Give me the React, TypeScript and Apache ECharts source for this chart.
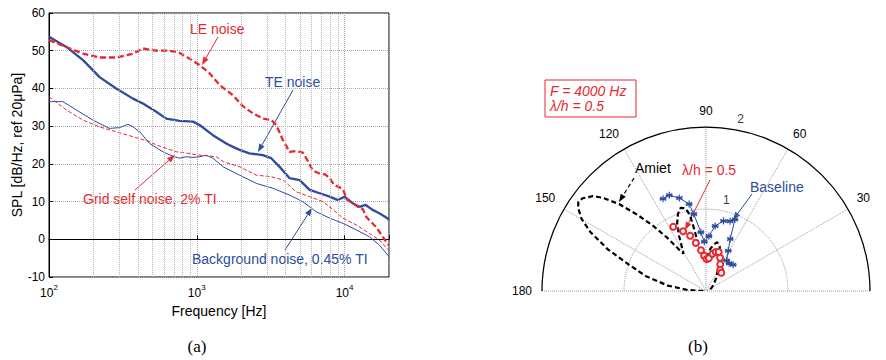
import React, { useEffect, useRef } from 'react';
import * as echarts from 'echarts';

const RED = '#e8282f';
const BLUE = '#2d4c9e';
const SANS = 'Liberation Sans, Arial, Helvetica, sans-serif';

// ---------- Panel (a): SPL spectra ----------
const leFreq = [100, 131, 170, 220, 285, 370, 432, 532, 655, 765, 894, 1045, 1221, 1427, 1756, 2053, 2399, 2803, 3191, 3450, 3828, 4246, 4700, 5226, 5600, 6107, 6700, 7400, 7940, 8500, 9251, 9770, 10400, 11200, 12300, 13300, 14000, 14700, 15500, 16300, 17200, 18100, 19000, 20000];
const leSpl = [52.8, 51.0, 49.2, 48.2, 48.2, 49.2, 50.6, 50.0, 50.0, 49.4, 47.9, 46.2, 44.0, 40.9, 38.2, 35.3, 33.4, 32.0, 31.6, 30.3, 26.3, 23.2, 23.4, 23.0, 21.0, 18.2, 17.5, 17.2, 16.2, 14.4, 13.8, 13.2, 10.5, 9.8, 8.6, 8.0, 6.0, 5.1, 4.2, 3.3, 2.0, 0.7, -0.5, -1.6];

const teFreq = [100, 131, 170, 220, 285, 370, 432, 532, 622, 765, 942, 1045, 1286, 1583, 1758, 1949, 2270, 2800, 3190, 3640, 4250, 4970, 5810, 6790, 7940, 9030, 10000, 11400, 12600, 13900, 15500, 17200, 19500, 20000];
const teSpl = [53.7, 51.0, 47.5, 43.0, 40.0, 37.3, 36.0, 33.8, 32.0, 31.4, 31.2, 30.3, 27.6, 25.4, 24.5, 23.7, 22.8, 22.3, 21.5, 19.2, 16.2, 15.7, 13.1, 12.2, 11.3, 10.4, 11.3, 9.5, 8.6, 9.1, 7.8, 6.9, 5.6, 5.1];

const bgFreq = [100, 124, 153, 198, 257, 301, 342, 370, 411, 480, 590, 692, 765, 849, 942, 1050, 1160, 1286, 1510, 1950, 2540, 3290, 4250, 5200, 6440, 7940, 9800, 12000, 14700, 17200, 20000];
const bgSpl = [36.5, 36.5, 34.3, 31.6, 29.4, 29.6, 30.5, 29.8, 28.5, 25.4, 23.2, 22.0, 21.5, 21.9, 21.7, 21.9, 22.3, 21.5, 19.2, 17.0, 14.8, 13.5, 11.7, 10.0, 7.3, 5.6, 4.2, 2.5, 0.7, -1.5, -4.6];

const gridFreq = [100, 131, 170, 220, 285, 370, 480, 533, 622, 730, 806, 1050, 1355, 1510, 1950, 2540, 3190, 3840, 4700, 5800, 7140, 7940, 9770, 12000, 14700, 17200, 20000];
const gridSpl = [37.8, 34.3, 31.6, 29.8, 28.5, 27.2, 25.9, 25.0, 24.1, 23.2, 23.0, 22.3, 21.9, 20.6, 19.2, 17.0, 16.6, 15.7, 12.6, 11.3, 10.0, 8.6, 5.6, 3.8, 1.6, -0.2, -3.0];

const majorFreqTicks = [100, 1000, 10000];
const majorFreqExponents = ['2', '3', '4'];
const minorFreqGrid = [200, 300, 400, 500, 600, 700, 800, 900, 2000, 3000, 4000, 5000, 6000, 7000, 8000, 9000];

// ---------- Panel (b): directivity (angle in degrees, radius) ----------
const amietAngle = [180, 177, 172, 166, 161, 157, 153, 150, 147, 145, 143, 140, 138, 135, 132, 129, 126, 123, 121, 119, 116, 113, 110, 107, 104, 102, 101, 100, 97, 94, 91, 88, 84, 80, 77, 73, 69, 65, 60, 52, 42, 30, 15, 0];
const amietRadius = [0.03, 0.22, 0.47, 0.76, 1.0, 1.3, 1.58, 1.75, 1.86, 1.9, 1.88, 1.8, 1.7, 1.5, 1.25, 1.02, 0.8, 0.6, 0.53, 0.6, 0.75, 0.9, 1.0, 1.06, 1.04, 0.95, 0.8, 0.65, 0.5, 0.42, 0.38, 0.42, 0.52, 0.58, 0.61, 0.57, 0.48, 0.38, 0.29, 0.2, 0.13, 0.08, 0.04, 0.02];

const lambdaAngle = [117, 111, 106, 102, 97, 93, 89, 85, 80, 76, 72, 67, 62, 56, 50];
const lambdaRadius = [0.88, 0.78, 0.7, 0.6, 0.5, 0.43, 0.39, 0.4, 0.46, 0.49, 0.5, 0.44, 0.37, 0.31, 0.29];

const baseAngle = [115, 111, 106, 101, 99, 95, 92, 87, 82, 76, 71, 68, 65, 61, 56, 50, 44];
const baseRadius = [1.24, 1.25, 1.18, 1.08, 0.95, 0.72, 0.6, 0.67, 0.8, 0.88, 0.9, 0.94, 0.7, 0.56, 0.45, 0.44, 0.46];

const radialTickValues = [1, 2];
const radialLabelAngle = 80;

const ASTERISK = 'path://M0,-5L0,5M-4.33,-2.5L4.33,2.5M-4.33,2.5L4.33,-2.5M-5,0L5,0';

function arrow(x1: number, y1: number, x2: number, y2: number, color: string, dashed = false, width = 1) {
  const ang = Math.atan2(y2 - y1, x2 - x1);
  const L = 8, W = 3;
  const bx = x2 - L * Math.cos(ang), by = y2 - L * Math.sin(ang);
  const px = -Math.sin(ang) * W, py = Math.cos(ang) * W;
  return [
    { type: 'line', shape: { x1, y1, x2: bx, y2: by }, style: { stroke: color, lineWidth: width, lineDash: dashed ? [4, 3] : null } },
    { type: 'polygon', shape: { points: [[x2, y2], [bx + px, by + py], [bx - px, by - py]] }, style: { fill: color } },
  ];
}

function txt(x: number, y: number, text: string, color: string, size = 14, extra: any = {}) {
  return { type: 'text', x, y, style: { text, fill: color, font: `${extra.italic ? 'italic ' : ''}${size}px ${extra.family || SANS}`, textAlign: extra.align || 'left', textVerticalAlign: 'middle' } };
}

const zip = (a: number[], b: number[]) => a.map((v, i) => [v, b[i]]);

export default function App() {
  const ref = useRef<HTMLDivElement>(null);
  useEffect(() => {
    const chart = echarts.init(ref.current!, null, { renderer: 'svg' });
    const option: any = {
      animation: false,
      backgroundColor: '#fff',
      grid: { left: 49, top: 13, width: 340, height: 264, show: true, borderColor: '#000', borderWidth: 1, containLabel: false },
      xAxis: {
        type: 'log', logBase: 10, min: 100, max: 20000,
        name: 'Frequency [Hz]', nameLocation: 'middle', nameGap: 19,
        nameTextStyle: { fontFamily: SANS, fontSize: 14, color: '#000' },
        axisLine: { lineStyle: { color: '#000' } },
        axisTick: { inside: true, length: 4, lineStyle: { color: '#000' } },
        axisLabel: {
          margin: 6,
          formatter: (v: number) => {
            const i = majorFreqTicks.findIndex((t) => Math.abs(t - v) / t < 1e-6);
            return i < 0 ? '' : `{b|10}{s|${majorFreqExponents[i]}}`;
          },
          rich: {
            b: { fontFamily: SANS, fontSize: 12, color: '#000', lineHeight: 16, verticalAlign: 'bottom' },
            s: { fontFamily: SANS, fontSize: 8, color: '#000', lineHeight: 16, verticalAlign: 'top' },
          },
        },
        splitLine: { show: true, lineStyle: { color: '#a8a8a8', type: 'dotted' } },
      },
      yAxis: {
        type: 'value', min: -10, max: 60, interval: 10,
        name: 'SPL [dB/Hz, ref 20\u03bcPa]', nameLocation: 'middle', nameGap: 20,
        nameTextStyle: { fontFamily: SANS, fontSize: 14, color: '#000' },
        axisLine: { show: true, lineStyle: { color: '#000' } },
        axisTick: { show: true, inside: true, length: 4, lineStyle: { color: '#000' } },
        axisLabel: { fontFamily: SANS, fontSize: 12, color: '#000', margin: 4 },
        splitLine: { show: true, lineStyle: { color: '#a8a8a8', type: 'dotted' } },
      },
      polar: { center: [706, 291], radius: 164 },
      angleAxis: {
        type: 'value', min: 0, max: 180, interval: 30,
        startAngle: 0, endAngle: 180, clockwise: false,
        axisLine: { show: true, lineStyle: { color: '#000', width: 1.2 } },
        axisTick: { show: false },
        axisLabel: { fontFamily: SANS, fontSize: 12, color: '#000', margin: 10, formatter: (v: number) => (v === 0 ? '' : String(v)) },
        splitLine: { show: true, lineStyle: { color: '#999', type: 'dotted' } },
      },
      radiusAxis: {
        type: 'value', min: 0, max: 2, interval: 1,
        axisLine: { show: false }, axisTick: { show: false }, axisLabel: { show: false },
        splitLine: { show: true, lineStyle: { color: '#999', type: 'dotted' } },
      },
      series: [
        {
          type: 'line', data: [], silent: true, z: 1,
          markLine: {
            silent: true, symbol: ['none', 'none'], label: { show: false },
            lineStyle: { color: '#b4b4b4', type: 'dotted', width: 1 },
            emphasis: { disabled: true },
            data: minorFreqGrid.map((f) => ({ xAxis: f })),
          },
        },
        { name: 'Background noise, 0.45% TI', type: 'line', showSymbol: false, data: zip(bgFreq, bgSpl), lineStyle: { color: BLUE, width: 1 }, z: 3 },
        { name: 'Grid self noise, 2% TI', type: 'line', showSymbol: false, data: zip(gridFreq, gridSpl), lineStyle: { color: RED, width: 1, type: [4, 2] }, z: 3 },
        { name: 'TE noise', type: 'line', showSymbol: false, data: zip(teFreq, teSpl), lineStyle: { color: BLUE, width: 2.3 }, z: 4 },
        { name: 'LE noise', type: 'line', showSymbol: false, data: zip(leFreq, leSpl), lineStyle: { color: RED, width: 2.3, type: [6, 3] }, z: 4 },
        {
          name: 'Amiet', type: 'line', coordinateSystem: 'polar', showSymbol: false,
          data: zip(amietRadius, amietAngle), lineStyle: { color: '#000', width: 2.2, type: [5, 3] }, z: 3,
        },
        {
          name: 'Baseline', type: 'line', coordinateSystem: 'polar', symbol: ASTERISK, symbolSize: 7, showSymbol: true,
          data: zip(baseRadius, baseAngle), lineStyle: { color: BLUE, width: 1 },
          itemStyle: { color: BLUE, borderColor: BLUE, borderWidth: 1.2 }, z: 4,
        },
        {
          name: '\u03bb/h = 0.5', type: 'line', coordinateSystem: 'polar', symbol: 'emptyCircle', symbolSize: 6, showSymbol: true,
          data: zip(lambdaRadius, lambdaAngle), lineStyle: { color: RED, width: 1 },
          itemStyle: { color: RED, borderColor: RED, borderWidth: 1 }, z: 5,
        },
        {
          type: 'scatter', coordinateSystem: 'polar', symbolSize: 0, silent: true,
          data: radialTickValues.map((r) => [r, radialLabelAngle]),
          label: { show: true, position: 'top', distance: 4, offset: [6, 0], formatter: (p: any) => String(p.value[0]), fontFamily: SANS, fontSize: 12, color: '#000' },
        },
      ],
      graphic: [
        // panel (a) annotations
        txt(190, 29, 'LE noise', RED),
        ...arrow(218, 37, 202, 65, RED),
        txt(265, 82, 'TE noise', BLUE),
        ...arrow(293, 90, 258, 152, BLUE),
        txt(83, 199, 'Grid self noise, 2% TI', RED),
        ...arrow(135, 190, 175, 155, RED),
        txt(192, 259, 'Background noise, 0.45% TI', BLUE),
        ...arrow(285, 250, 312, 208, BLUE),
        // panel (b) annotations
        { type: 'rect', shape: { x: 545, y: 80, width: 91, height: 37 }, style: { fill: '#fff', stroke: RED, lineWidth: 1 } },
        txt(550, 91, 'F = 4000 Hz', RED, 14, { italic: true }),
        txt(550, 106, '\u03bb/h = 0.5', RED, 14, { italic: true }),
        txt(635, 168, 'Amiet', '#000'),
        ...arrow(634, 178, 619, 202, '#000', true, 1.2),
        txt(682, 170, '\u03bb/h = 0.5', RED),
        ...arrow(710, 180, 685, 230, RED),
        txt(750, 187, 'Baseline', BLUE),
        ...arrow(752, 194, 733, 220, BLUE),
        // captions
        txt(197, 346, '(a)', '#000', 17, { family: 'Liberation Serif, DejaVu Serif, serif', align: 'center' }),
        txt(698, 346, '(b)', '#000', 17, { family: 'Liberation Serif, DejaVu Serif, serif', align: 'center' }),
      ],
    };
    chart.setOption(option);
    return () => chart.dispose();
  }, []);
  return <div ref={ref} style={{ position: 'fixed', left: 0, top: 0, width: 886, height: 360, background: '#fff' }} />;
}
